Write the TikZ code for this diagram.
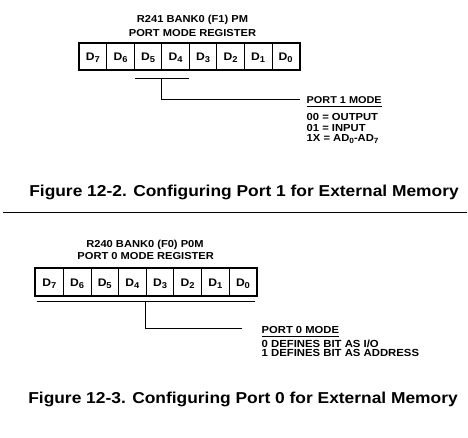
\documentclass[tikz,border=0pt]{standalone}
\usepackage{fontspec}
\setmainfont{Liberation Sans}[FakeStretch=1.1]
\newcommand\dsub[2][8.5]{\raisebox{-2pt}{\fontsize{#1}{#1}\selectfont #2}}
\begin{document}
\begin{tikzpicture}[x=1pt,y=-1pt,
  txt/.style={inner sep=0pt,outer sep=0pt,font=\bfseries\fontsize{#1}{#1}\selectfont},
  cellA/.style={draw,line width=0.8pt,minimum width=27.53pt,minimum height=25.4pt,inner sep=0pt,anchor=north west,text height=9pt,text depth=0pt,font=\bfseries\fontsize{11}{11}\selectfont},
  cellB/.style={cellA,minimum width=27.65pt,minimum height=27pt},
  outer/.style={line width=2pt},
  bar/.style={line width=1.5pt},
  conn/.style={line width=0.9pt},
  uline/.style={line width=0.9pt},
  rule/.style={line width=1.1pt}]
\useasboundingbox (0,0) rectangle (468,437);

% ---------- Figure 12-2 ----------
\node[txt=10.1,anchor=base] (t1a) at (192.5,22.3) {R241 BANK0 (F1) PM};
\node[txt=10.1,anchor=base] (t1b) at (192.5,36) {PORT MODE REGISTER};
\foreach \i [count=\k from 0] in {7,6,5,4,3,2,1,0}
  \node[cellA] (r1d\i) at ({78.8+\k*27.53},43.3) {D\dsub{\i}};
\draw[outer] (r1d7.north west) rectangle (r1d0.south east);

\coordinate (b1l) at (135,78.7);
\coordinate (b1r) at (189,78.7);
\coordinate (h1) at (300,99);
\draw[bar] (b1l) -- (b1r);
\draw[conn] (r1d4.south west |- b1l) |- (h1);

\node[txt=9.9,anchor=base west] (p1) at (306.7,103.3) {PORT 1 MODE};
\draw[uline] ([yshift=-3.4pt]p1.base west) -- ([yshift=-3.4pt]p1.base east);
\node[txt=10.2,anchor=base west] (p1a) at (306.7,120.7) {00 = OUTPUT};
\node[txt=10.2,anchor=base west] (p1b) at (306.7,131.3) {01 = INPUT};
\node[txt=10.2,anchor=base west] (p1c) at (306.7,141.7) {1X = AD\dsub[7.5]{0}-AD\dsub[7.5]{7}};

\node[txt=15.8,anchor=base west] (cap1) at (29.3,196.7) {Figure 12-2. Configuring Port 1 for External Memory};

\coordinate (rl) at (3,212.3);
\coordinate (rr) at (467,212.3);
\draw[rule] (rl) -- (rr);

% ---------- Figure 12-3 ----------
\node[txt=10.1,anchor=base] (t2a) at (145,247.3) {R240 BANK0 (F0) P0M};
\node[txt=10.1,anchor=base] (t2b) at (145.7,259.3) {PORT 0 MODE REGISTER};
\foreach \i [count=\k from 0] in {7,6,5,4,3,2,1,0}
  \node[cellB] (r2d\i) at ({35.2+\k*27.65},267.7) {D\dsub{\i}};
\draw[outer] (r2d7.north west) rectangle (r2d0.south east);

\coordinate (b2l) at (36.7,301.7);
\coordinate (b2r) at (255,301.7);
\coordinate (h2) at (241.7,328.3);
\draw[bar] (b2l) -- (b2r);
\draw[conn] (r2d3.south west |- b2l) |- (h2);

\node[txt=10.2,anchor=base west] (p0) at (261.7,333) {PORT 0 MODE};
\draw[uline] ([yshift=-3.4pt]p0.base west) -- ([yshift=-3.4pt]p0.base east);
\node[txt=10.3,anchor=base west] (p0a) at (261.7,347.3) {0 DEFINES BIT AS I/O};
\node[txt=10.3,anchor=base west] (p0b) at (261.7,356.3) {1 DEFINES BIT AS ADDRESS};

\node[txt=15.8,anchor=base west] (cap2) at (28.3,403.3) {Figure 12-3. Configuring Port 0 for External Memory};
\end{tikzpicture}
\end{document}
